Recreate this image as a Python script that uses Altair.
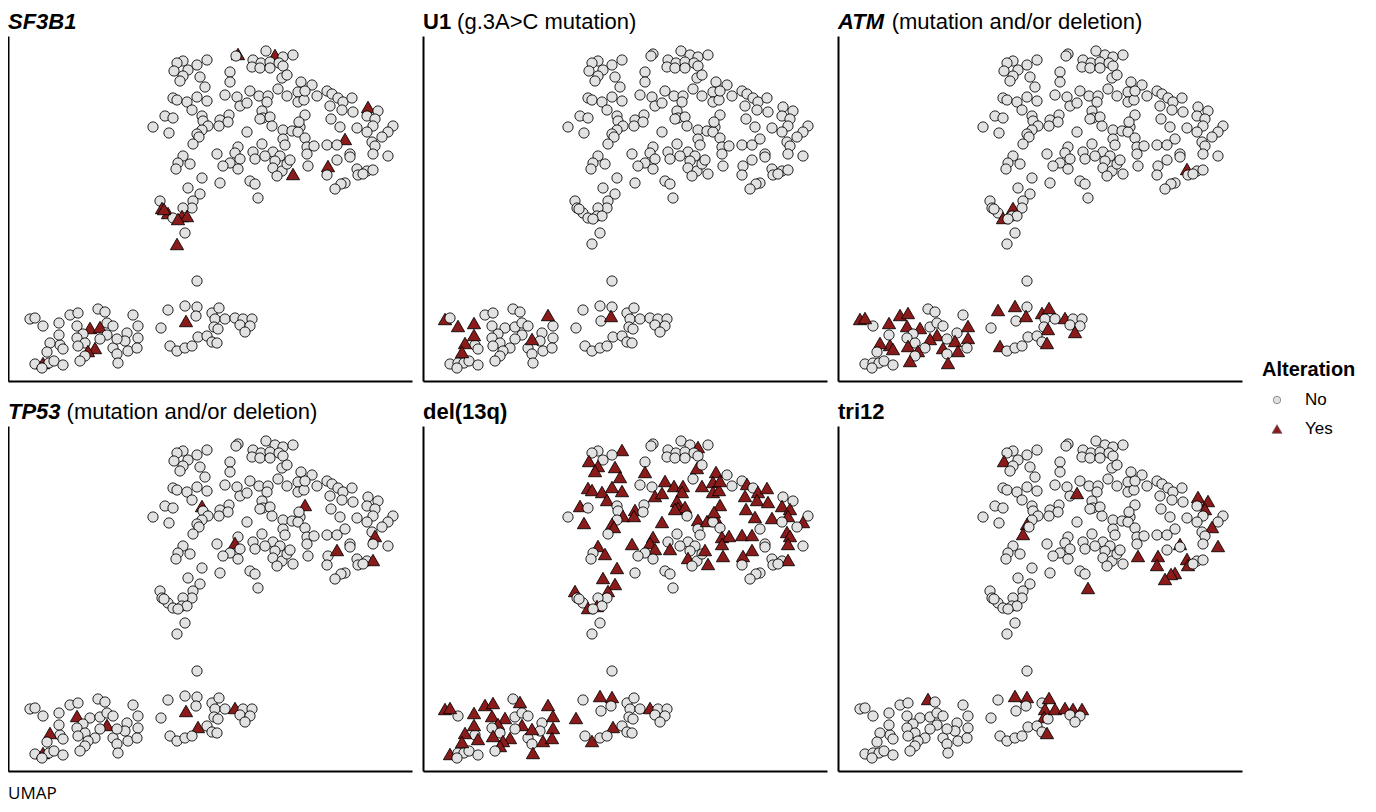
import altair as alt
import pandas as pd
import numpy as np

# ---- UMAP coordinates of all samples (arbitrary embedding units) ----
umap1 = [653, 651, 681, 690, 698, 668, 676, 685, 694, 622, 598, 592, 612, 589, 603, 598, 595, 615, 645, 645,
         667, 675, 685, 697, 693, 620, 665, 640, 652, 674, 683, 702, 588, 592, 602, 612, 622, 655, 662, 682,
         607, 677, 678, 685, 675, 580, 588, 617, 618, 635, 644, 643, 623, 634, 687, 568, 584, 617, 612, 614,
         662, 698, 698, 608, 677, 653, 668, 688, 632, 598,
         708, 698, 702, 716, 727, 713, 713, 719, 732, 742, 747, 753, 758, 767, 745, 757, 768, 783, 793, 782,
         790, 720, 746, 715, 707, 713, 755, 772, 788, 808, 803, 782, 720, 760, 797, 787, 700, 722, 729, 742,
         752, 790, 722, 695, 765, 788, 803,
         650, 655, 645, 638, 653, 670, 680, 690, 688, 697, 692, 702, 593, 605, 591, 617, 635, 665, 670, 673,
         603, 615, 575, 577, 608, 607, 598, 583, 588, 597, 602, 593, 600, 592,
         705, 708, 723, 743, 752, 742, 765, 772, 773, 782, 788, 778, 760, 756, 750,
         445, 485, 493, 513, 520, 492, 505, 515, 522, 528, 498, 492, 522, 515, 500, 493, 475, 478, 510, 503,
         500, 495, 528, 542, 540, 543, 553, 553, 552, 532, 533, 450, 458, 464, 469, 478, 457,
         612, 583, 600, 612, 601, 576, 627, 634, 630, 629, 633, 640, 650, 658, 667, 655, 665, 660, 613, 622,
         627, 632, 585, 592, 600, 607]
umap2 = [53, 55, 50, 54, 56, 59, 62, 61, 62, 59, 60, 62, 64, 70, 69, 75, 80, 76, 71, 81,
         66, 67, 67, 77, 88, 86, 90, 94, 96, 95, 95, 95, 97, 99, 101, 96, 100, 105, 102, 101,
         109, 110, 117, 116, 118, 115, 117, 115, 120, 119, 114, 121, 125, 125, 125, 126, 132, 129, 133, 136,
         131, 129, 138, 143, 143, 146, 151, 151, 153, 155,
         54, 65, 74, 81, 84, 91, 101, 99, 95, 90, 93, 97, 101, 97, 105, 109, 111, 106, 110, 115,
         118, 114, 118, 126, 130, 131, 126, 127, 125, 125, 131, 131, 137, 138, 136, 141, 144, 146, 145, 144,
         144, 145, 153, 155, 153, 153, 155,
         152, 158, 162, 165, 168, 158, 155, 160, 167, 170, 175, 163, 162, 163, 168, 177, 182, 180, 183, 197,
         187, 193, 200, 207, 200, 207, 207, 212, 217, 215, 215, 218, 232, 243,
         159, 173, 165, 165, 159, 174, 156, 168, 174, 170, 169, 173, 182, 183, 188,
         318, 314, 312, 308, 311, 325, 327, 326, 322, 325, 333, 337, 334, 338, 342, 345, 344, 348, 347, 350,
         355, 360, 347, 332, 340, 350, 325, 337, 347, 353, 362, 363, 362, 362, 360, 364, 367,
         280, 309, 305, 306, 320, 327, 312, 307, 318, 326, 328, 318, 317, 318, 318, 324, 325, 331, 336, 335,
         341, 342, 345, 350, 347, 345]

# ---- samples carrying each alteration (positions in the same embedding) ----
sf3b1_x = [652, 689, 787, 760, 708, 744, 576, 585, 593, 601, 579, 591, 596, 505, 515, 503, 511, 460, 601]
sf3b1_y = [53, 52, 109, 138, 170, 163, 204, 210, 213, 212, 208, 222, 238, 326, 326, 348, 346, 362, 318]

u1_x = [440, 458, 474, 474, 465, 462, 532, 548, 611]
u1_y = [323, 325, 322, 334, 342, 351, 338, 314, 315]

atm_x = [446, 450, 486, 494, 476, 491, 506, 467, 477, 480, 494, 496, 504, 521, 518, 529, 540, 542, 532, 556,
         557, 583, 601, 611, 635, 628, 650, 634, 631, 584, 664, 589, 598, 773]
atm_y = [316, 317, 313, 312, 323, 323, 325, 341, 343, 348, 343, 359, 350, 333, 340, 346, 337, 349, 361, 323,
         338, 308, 303, 315, 304, 313, 314, 328, 340, 343, 330, 214, 205, 168]

tp53_x = [617, 648, 720, 752, 788, 790, 492, 465, 459, 523, 601, 616, 647]
tp53_y = [113, 152, 115, 157, 170, 144, 323, 344, 363, 331, 318, 335, 320]

del13q_x = [622, 698, 589, 598, 596, 614, 619, 647, 698, 716, 587, 592, 602, 612, 623, 605, 578, 583, 664, 674,
            682, 662, 654, 682, 675, 678, 685, 675, 703, 712, 720, 712, 719, 720, 625, 635, 635, 608, 613, 661,
            698, 707, 712, 714, 632, 652, 647, 655, 670, 597, 605, 617, 603, 615, 607, 577, 588, 595, 688, 705,
            709, 723, 722, 722, 730, 742, 752, 752, 743, 745, 744, 758, 757, 767, 768, 746, 754, 772, 781, 792,
            790, 803, 785, 790, 788, 788,
            445, 450, 486, 494, 474, 473, 466, 461, 450, 480, 493, 498, 506, 493, 500, 504, 511, 520, 521, 533,
            533, 547, 555, 556, 552, 541, 576, 600, 612, 614, 593, 648]
del13q_y = [57, 55, 69, 75, 80, 75, 85, 80, 77, 80, 96, 98, 100, 94, 99, 108, 114, 131, 88, 93,
            95, 101, 104, 100, 108, 113, 114, 118, 94, 91, 90, 100, 98, 113, 120, 117, 125, 130, 135, 130,
            128, 130, 126, 121, 151, 145, 153, 156, 156, 157, 161, 175, 187, 192, 201, 201, 214, 213, 166, 158,
            171, 163, 148, 155, 144, 144, 142, 156, 164, 105, 96, 100, 108, 95, 110, 117, 125, 126, 114, 118,
            125, 130, 140, 145, 151, 168,
            318, 317, 313, 311, 322, 333, 341, 351, 362, 347, 323, 333, 325, 344, 354, 356, 346, 308, 331, 338,
            361, 314, 325, 338, 347, 348, 326, 303, 305, 335, 347, 320]

tri12_x = [589, 663, 613, 609, 783, 794, 792, 798, 803, 766, 724, 744, 743, 773, 774, 763, 758, 750, 673,
           513, 599, 609, 631, 625, 636, 646, 656, 666, 628, 632]
tri12_y = [69, 101, 134, 141, 105, 109, 117, 135, 155, 154, 163, 164, 173, 166, 171, 180, 182, 187, 195,
           308, 303, 302, 305, 318, 320, 319, 318, 319, 328, 338]

panel_keys = ["SF3B1", "U1", "ATM", "TP53", "del(13q)", "tri12"]
panel_bold = ["SF3B1", "U1", "ATM", "TP53", "del(13q)", "tri12"]
panel_rest = ["", "(g.3A>C mutation)", "(mutation and/or deletion)", "(mutation and/or deletion)", "", ""]
panel_italic = [True, False, True, True, False, False]
yes_lists = [(sf3b1_x, sf3b1_y), (u1_x, u1_y), (atm_x, atm_y), (tp53_x, tp53_y),
             (del13q_x, del13q_y), (tri12_x, tri12_y)]
legend_levels = ["No", "Yes"]

# ---- assign each carrier to a sample in the embedding (nearest sample) ----
px = list(umap1)
py = list(umap2)
yes_sets = []
for tx, ty in yes_lists:
    chosen_set = set()
    for a, b in zip(tx, ty):
        d = (np.array(px) - a) ** 2 + (np.array(py) - b) ** 2
        chosen = None
        for i in np.argsort(d)[:5]:
            if d[i] <= 64 and int(i) not in chosen_set:
                chosen = int(i)
                break
        if chosen is None:
            px.append(a)
            py.append(b)
            chosen = len(px) - 1
        chosen_set.add(chosen)
    yes_sets.append(chosen_set)

rows = []
for key, s in zip(panel_keys, yes_sets):
    for i in range(len(px)):
        rows.append({"panel": key, "u1": px[i], "u2": py[i], "idx": i,
                     "Alteration": "Yes" if i in s else "No"})
df = pd.DataFrame(rows)

W, H = 404, 345
FONT = "Liberation Sans"
TSIZE = 22
TITLE_Y = -7

axis_x = alt.Axis(domain=True, domainColor="black", domainWidth=2, ticks=False, labels=False,
                  grid=False, title=None)
axis_y = alt.Axis(domain=True, domainColor="black", domainWidth=2, ticks=False, labels=False,
                  grid=False, title=None)

shape_scale = alt.Scale(domain=legend_levels, range=["circle", "triangle-up"])
fill_scale = alt.Scale(domain=legend_levels, range=["#e2e2e2", "#8b1a1a"])


def bold_width(txt):
    w = {"S": .667, "F": .611, "3": .556, "B": .722, "1": .556, "U": .722, "A": .722, "T": .611,
         "M": .833, "P": .667, "5": .556}
    return sum(w.get(c, .6) for c in txt) * TSIZE


def legend_layers():
    out = []
    out.append(alt.Chart(pd.DataFrame({"t": ["Alteration"]})).mark_text(
        align="left", baseline="alphabetic", fontSize=20, font=FONT, fontWeight="bold", color="black"
    ).encode(text="t:N", x=alt.value(424), y=alt.value(340)))
    for lev, yy, sz in zip(legend_levels, [364, 393], [55, 100]):
        d = pd.DataFrame({"Alteration": [lev]})
        out.append(alt.Chart(d).mark_point(filled=True, stroke="#666666", strokeWidth=0.7, opacity=1,
                                           size=sz).encode(
            x=alt.value(439), y=alt.value(yy),
            shape=alt.Shape("Alteration:N", scale=shape_scale, legend=None),
            fill=alt.Fill("Alteration:N", scale=fill_scale, legend=None)))
        out.append(alt.Chart(d).mark_text(align="left", baseline="middle", fontSize=17, font=FONT,
                                          color="black").encode(
            text="Alteration:N", x=alt.value(467), y=alt.value(yy)))
    return out


def panel(k):
    key = panel_keys[k]
    pts = alt.Chart(df).transform_filter(alt.datum.panel == key).mark_point(
        filled=True, stroke="black", strokeWidth=1, strokeOpacity=0.85, opacity=1
    ).encode(
        x=alt.X("u1:Q", scale=alt.Scale(domain=[423, 827], nice=False, zero=False), axis=axis_x),
        y=alt.Y("u2:Q", scale=alt.Scale(domain=[380, 35], nice=False, zero=False), axis=axis_y),
        shape=alt.Shape("Alteration:N", scale=shape_scale, legend=None),
        fill=alt.Fill("Alteration:N", scale=fill_scale, legend=None),
        size=alt.Size("Alteration:N", scale=alt.Scale(domain=legend_levels, range=[105, 175]), legend=None),
        order="idx:Q",
    )
    layers = [pts]
    layers.append(alt.Chart(pd.DataFrame({"t": [panel_bold[k]]})).mark_text(
        align="left", baseline="alphabetic", fontSize=TSIZE, font=FONT, fontWeight="bold",
        fontStyle="italic" if panel_italic[k] else "normal", color="black"
    ).encode(text="t:N", x=alt.value(0), y=alt.value(TITLE_Y)))
    if panel_rest[k]:
        layers.append(alt.Chart(pd.DataFrame({"t": [panel_rest[k]]})).mark_text(
            align="left", baseline="alphabetic", fontSize=TSIZE, font=FONT, fontWeight="normal",
            color="black"
        ).encode(text="t:N", x=alt.value(bold_width(panel_bold[k]) + 6), y=alt.value(TITLE_Y)))
    if k == 2:
        layers += legend_layers()
    return alt.layer(*layers).properties(width=W, height=H)


chart = alt.concat(*[panel(k) for k in range(6)], columns=3, bounds="flush",
                   spacing={"row": 45, "column": 11}).properties(
    title=alt.TitleParams("UMAP", orient="bottom", anchor="start", fontSize=17, font="Open Sans",
                          fontWeight="normal", color="black", offset=15),
    padding={"left": 0, "top": 3, "right": 5, "bottom": 2},
).configure_view(stroke=None)

chart.save("out.html", embed_options={"renderer": "svg", "actions": False})
